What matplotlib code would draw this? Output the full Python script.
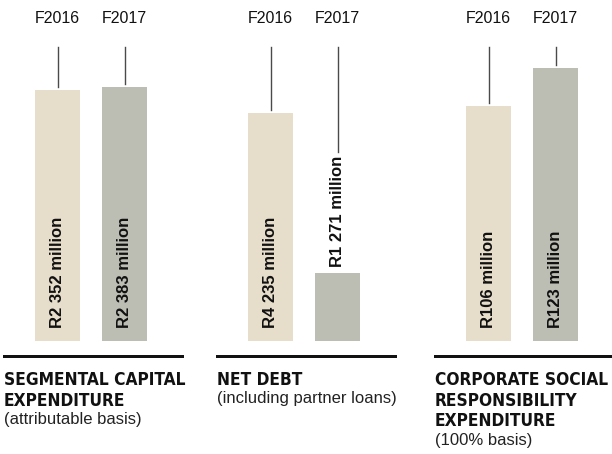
import matplotlib
matplotlib.use('Agg')
import matplotlib.pyplot as plt
from matplotlib import font_manager
from matplotlib.font_manager import FontProperties

# Data
years = ['F2016', 'F2017']
capex = [2352, 2383]
capex_labels = ['R2 352 million', 'R2 383 million']
net_debt = [4235, 1271]
net_debt_labels = ['R4 235 million', 'R1 271 million']
csr = [106, 123]
csr_labels = ['R106 million', 'R123 million']

titles = [['SEGMENTAL CAPITAL', 'EXPENDITURE'],
          ['NET DEBT'],
          ['CORPORATE SOCIAL', 'RESPONSIBILITY', 'EXPENDITURE']]
subtitles = ['(attributable basis)', '(including partner loans)', '(100% basis)']

bar_colors = ['#E7DDCB', '#BCBEB4']
line_color = '#4a4a4a'

names = {f.name for f in font_manager.fontManager.ttflist}
regular = 'Liberation Sans' if 'Liberation Sans' in names else 'DejaVu Sans'

# look for a condensed bold face for the titles
cond = [f for f in font_manager.fontManager.ttflist
        if (f.stretch in ('condensed', 'semi-condensed', 'extra-condensed', 'ultra-condensed')
            or 'Condensed' in f.name or 'Narrow' in f.name)
        and f.weight in ('bold', 700, 800, 900, 'heavy', 'black')]
if cond:
    title_font = FontProperties(fname=cond[0].fname, size=12.4)
else:
    title_font = FontProperties(family=regular, weight='bold', size=11.3)


def main():
    W, H = 612, 454
    fig = plt.figure(figsize=(W / 100, H / 100), dpi=100)
    renderer = fig.canvas.get_renderer()

    panels = [(capex, capex_labels), (net_debt, net_debt_labels), (csr, csr_labels)]
    lefts = [4, 217, 435]      # px
    ytops = [2755, 5461, 132.6]
    ax_w, ax_bottom, ax_h = 177.5, 341, 294  # px
    px = 0.72  # points per pixel

    for k, (values, labels) in enumerate(panels):
        ax = fig.add_axes([lefts[k] / W, (H - ax_bottom) / H, ax_w / W, ax_h / H])
        ax.bar(range(len(values)), values, width=0.67, color=bar_colors)
        ax.set_xlim(-0.8, 1.85)
        ax.set_ylim(0, ytops[k])
        for s in ['top', 'left', 'right']:
            ax.spines[s].set_visible(False)
        ax.spines['bottom'].set_position(('outward', 15 * px))
        ax.spines['bottom'].set_linewidth(3 * px)
        ax.spines['bottom'].set_color('#111111')
        ax.set_xticks([])
        ax.set_yticks([])
        ax.patch.set_alpha(0)

        for i, (v, lab) in enumerate(zip(values, labels)):
            bar_h = ax.transData.transform((0, v))[1] - ax.transData.transform((0, 0))[1]
            t = ax.annotate(lab, xy=(i, 0), xytext=(0, 13 * px), textcoords='offset points',
                            rotation=90, ha='center', va='bottom', fontsize=12,
                            fontweight='bold', family=regular, color='#111111')
            ext = t.get_window_extent(renderer)
            if ext.height + 13 + 6 > bar_h:
                # too short: put the label on top of the bar
                t.remove()
                t = ax.annotate(lab, xy=(i, v), xytext=(0, 6 * px), textcoords='offset points',
                                rotation=90, ha='center', va='bottom', fontsize=12,
                                fontweight='bold', family=regular, color='#111111')
                top_px = t.get_window_extent(renderer).y1
            else:
                top_px = ax.transData.transform((0, v))[1]
            end = ax.transData.inverted().transform((0, top_px + 3))[1]
            ax.plot([i, i], [end, ytops[k]], color=line_color, lw=1.0, clip_on=False)

            ax.annotate(years[i], xy=(i, 1), xycoords=('data', 'axes fraction'),
                        xytext=(0, 28.5 * px), textcoords='offset points',
                        ha='center', va='center', fontsize=11.5, family=regular,
                        color='#111111')

        # titles below the rule
        y = 371
        for line in titles[k]:
            fig.text(lefts[k] / W, 1 - y / H, line, ha='left', va='top',
                     fontproperties=title_font, color='#111111')
            y += 20.5
        fig.text(lefts[k] / W, 1 - y / H, subtitles[k], ha='left', va='top',
                 fontsize=12, family=regular, color='#222222')

    fig.savefig('out.png', dpi=100)


if __name__ == "__main__":
    main()
